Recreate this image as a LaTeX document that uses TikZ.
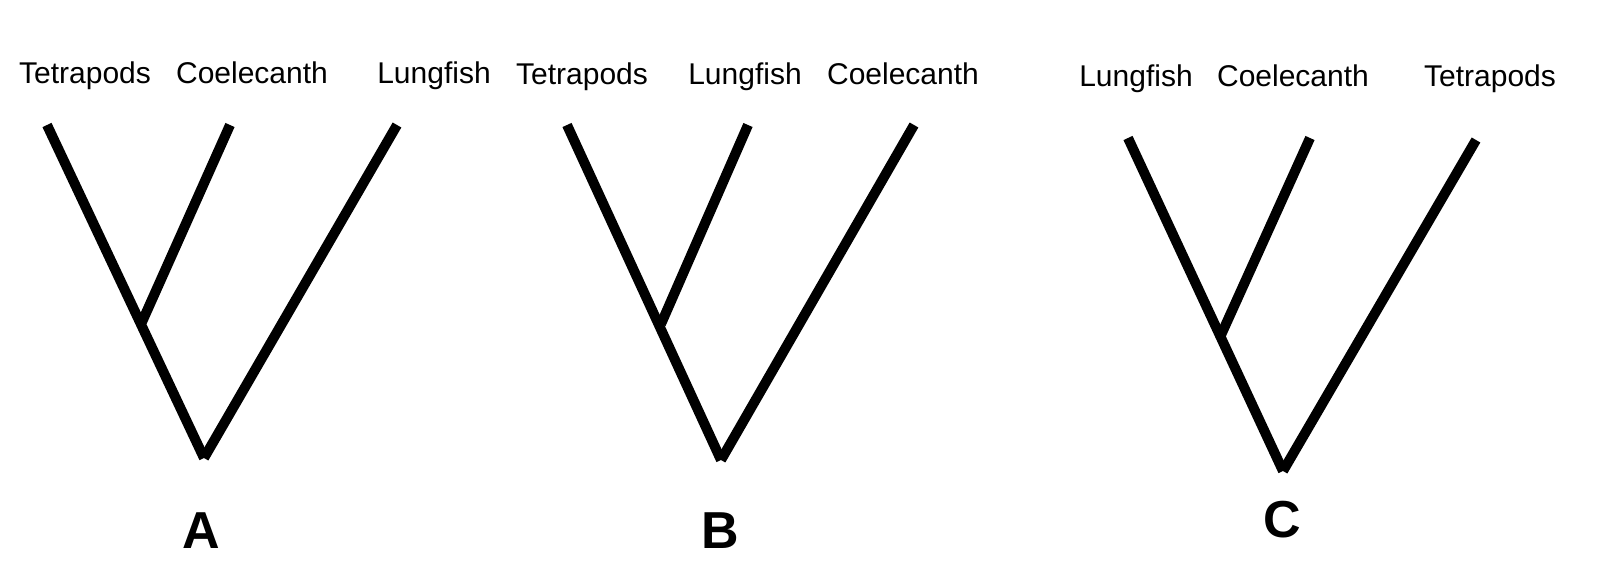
\documentclass[tikz,border=0pt]{standalone}
\usepackage{fontspec}
\setmainfont{Liberation Sans}
\usetikzlibrary{positioning}

\tikzset{
  branch/.style={line width=5pt},
  taxon/.style={inner sep=0pt, anchor=base, font=\fontsize{15}{18}\selectfont},
  treelabel/.style={inner sep=0pt, font=\fontsize{26}{30}\selectfont\bfseries}
}

\begin{document}
\begin{tikzpicture}[x=0.5pt,y=0.5pt,yscale=-1,xscale=1]
\useasboundingbox (0,0) rectangle (1600,588);

%Tree A
\coordinate (aL) at (47,125);
\coordinate (aM) at (230,125);
\coordinate (aR) at (397,125);
\coordinate (aIn) at (142,322);
\coordinate (aRoot) at (204,458);
\draw [branch] (aL) -- (aRoot) ;
\draw [branch] (aR) -- (aRoot) ;
\draw [branch] (aM) -- (aIn) ;
\node [taxon] (aTet) at (85,84) {Tetrapods};
\node [taxon] (aCoe) at (252,84) {Coelecanth};
\node [taxon] (aLun) at (434,84) {Lungfish};
\node [treelabel] (labA) at (201,531) {A};

%Tree B
\coordinate (bL) at (567,125);
\coordinate (bM) at (748,125);
\coordinate (bR) at (914,125);
\coordinate (bIn) at (661,324);
\coordinate (bRoot) at (721,460);
\draw [branch] (bL) -- (bRoot) ;
\draw [branch] (bR) -- (bRoot) ;
\draw [branch] (bM) -- (bIn) ;
\node [taxon] (bTet) at (582,85) {Tetrapods};
\node [taxon] (bLun) at (745,85) {Lungfish};
\node [taxon] (bCoe) at (903,85) {Coelecanth};
\node [treelabel] (labB) at (720,531) {B};

%Tree C
\coordinate (cL) at (1128,138);
\coordinate (cM) at (1310,138);
\coordinate (cR) at (1476,140);
\coordinate (cIn) at (1221,335);
\coordinate (cRoot) at (1283,471);
\draw [branch] (cL) -- (cRoot) ;
\draw [branch] (cR) -- (cRoot) ;
\draw [branch] (cM) -- (cIn) ;
\node [taxon] (cLun) at (1136,87) {Lungfish};
\node [taxon] (cCoe) at (1293,87) {Coelecanth};
\node [taxon] (cTet) at (1490,87) {Tetrapods};
\node [treelabel] (labC) at (1282,520) {C};

\end{tikzpicture}
\end{document}
